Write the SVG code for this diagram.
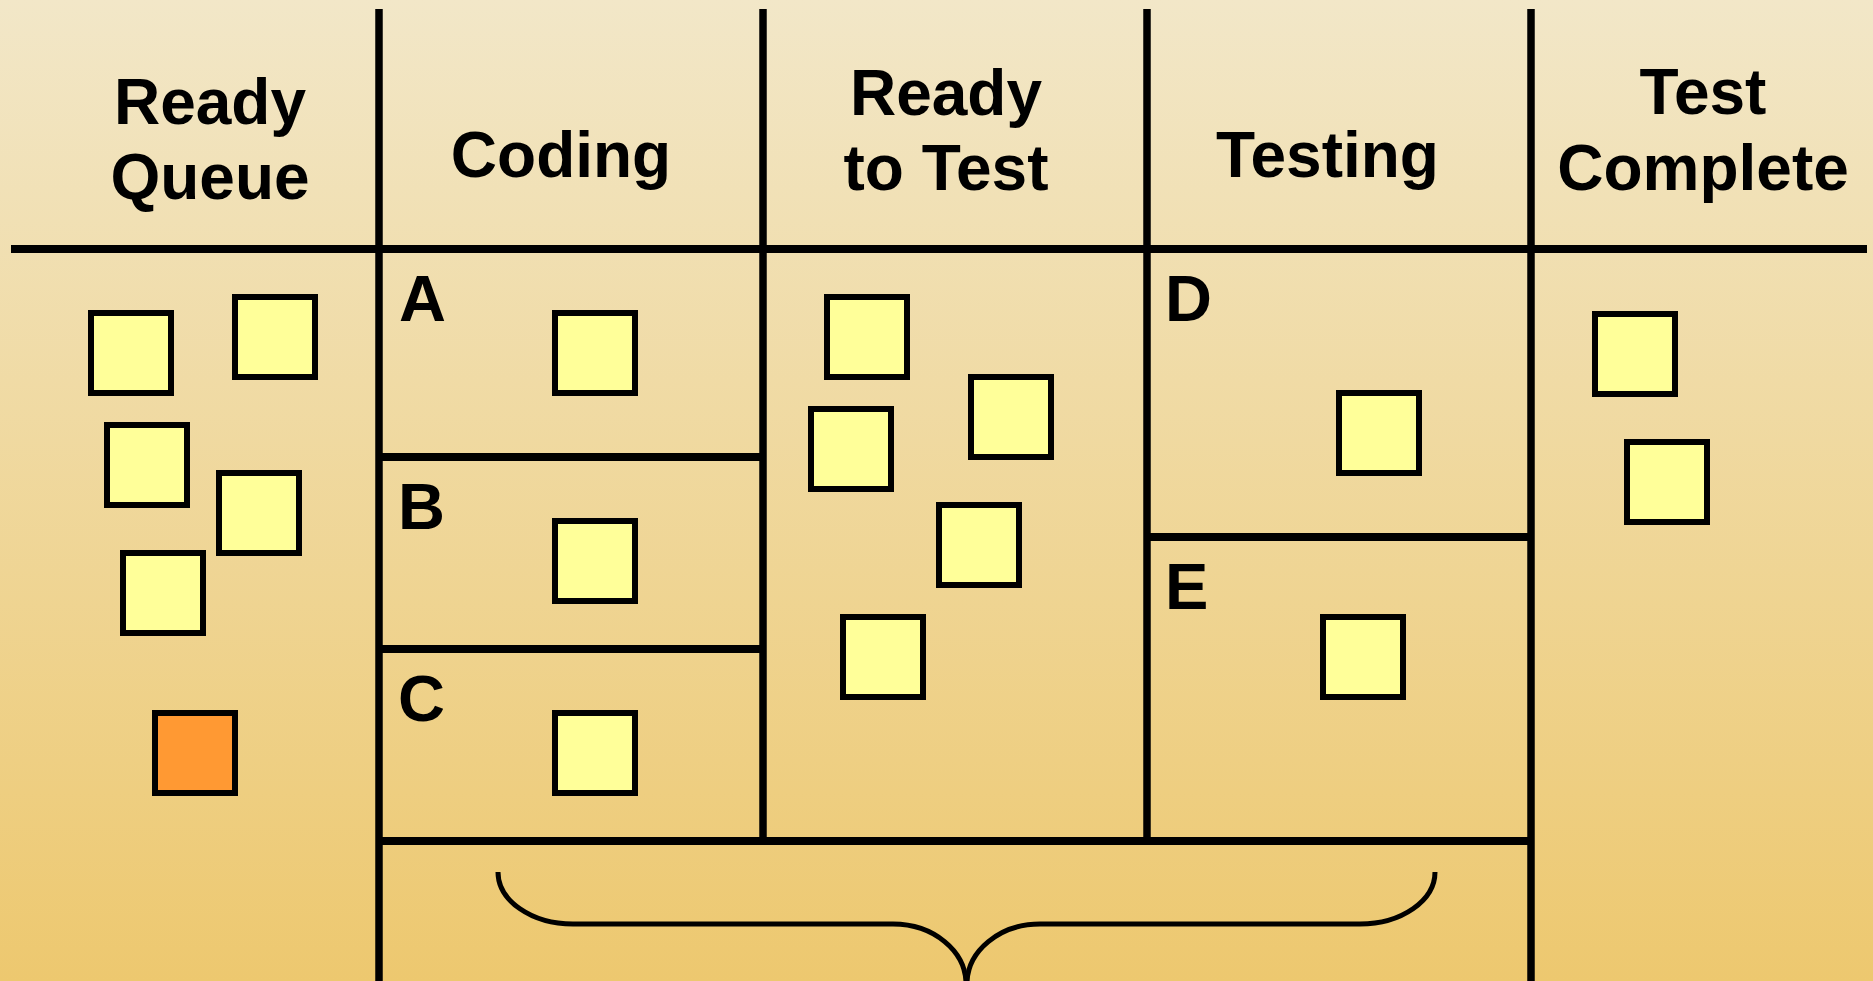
<svg xmlns="http://www.w3.org/2000/svg" width="1873" height="981" viewBox="0 0 1873 981">
  <defs>
    <linearGradient id="bg" x1="0" y1="0" x2="0" y2="1">
      <stop offset="0" stop-color="#F2E7C8"/>
      <stop offset="1" stop-color="#EDC86F"/>
    </linearGradient>
  </defs>
  <style>
    .hdr { font-family: "Liberation Sans", Arial, sans-serif; font-weight: bold; font-size: 64px; fill: #000; text-anchor: middle; }
    .lane { font-family: "Liberation Sans", Arial, sans-serif; font-weight: bold; font-size: 65px; fill: #000; }
    .vline { stroke: #000; stroke-width: 7.5; fill: none; }
    .hline { stroke: #000; stroke-width: 8; fill: none; }
    .card { fill: #FFFF99; stroke: #000; stroke-width: 6; }
    .card.blocked { fill: #FF9933; }
    .brace { fill: none; stroke: #000; stroke-width: 5; }
  </style>

  <rect x="0" y="0" width="1873" height="981" fill="url(#bg)"/>

  <!-- board grid -->
  <g id="grid">
    <line class="hline" x1="11" y1="249" x2="1867" y2="249"/>
    <line class="vline" x1="379" y1="9" x2="379" y2="981"/>
    <line class="vline" x1="763" y1="9" x2="763" y2="845"/>
    <line class="vline" x1="1147" y1="9" x2="1147" y2="845"/>
    <line class="vline" x1="1531" y1="9" x2="1531" y2="981"/>
    <line class="hline" x1="379" y1="457" x2="763" y2="457"/>
    <line class="hline" x1="379" y1="649" x2="763" y2="649"/>
    <line class="hline" x1="1147" y1="537" x2="1531" y2="537"/>
    <line class="hline" x1="379" y1="841" x2="1531" y2="841"/>
  </g>

  <!-- column headers -->
  <g id="col-ready-queue">
    <text class="hdr" x="210" y="124">Ready</text>
    <text class="hdr" x="210" y="199">Queue</text>
  </g>
  <g id="col-coding">
    <text class="hdr" x="561" y="177">Coding</text>
  </g>
  <g id="col-ready-to-test">
    <text class="hdr" x="946" y="115">Ready</text>
    <text class="hdr" x="946" y="189.5">to Test</text>
  </g>
  <g id="col-testing">
    <text class="hdr" x="1327.5" y="177">Testing</text>
  </g>
  <g id="col-test-complete">
    <text class="hdr" x="1703" y="113.5">Test</text>
    <text class="hdr" x="1703" y="190">Complete</text>
  </g>

  <!-- swimlane labels -->
  <g id="lane-a"><text class="lane" x="399" y="321">A</text></g>
  <g id="lane-b"><text class="lane" x="398" y="529">B</text></g>
  <g id="lane-c"><text class="lane" x="398" y="721">C</text></g>
  <g id="lane-d"><text class="lane" x="1165" y="321">D</text></g>
  <g id="lane-e"><text class="lane" x="1165" y="609">E</text></g>

  <!-- cards: Ready Queue -->
  <g id="rq-card-1"><rect class="card" x="91" y="313" width="80" height="80"/></g>
  <g id="rq-card-2"><rect class="card" x="235" y="297" width="80" height="80"/></g>
  <g id="rq-card-3"><rect class="card" x="107" y="425" width="80" height="80"/></g>
  <g id="rq-card-4"><rect class="card" x="219" y="473" width="80" height="80"/></g>
  <g id="rq-card-5"><rect class="card" x="123" y="553" width="80" height="80"/></g>
  <g id="rq-card-6"><rect class="card blocked" x="155" y="713" width="80" height="80"/></g>

  <!-- cards: Coding -->
  <g id="coding-card-a"><rect class="card" x="555" y="313" width="80" height="80"/></g>
  <g id="coding-card-b"><rect class="card" x="555" y="521" width="80" height="80"/></g>
  <g id="coding-card-c"><rect class="card" x="555" y="713" width="80" height="80"/></g>

  <!-- cards: Ready to Test -->
  <g id="rtt-card-1"><rect class="card" x="827" y="297" width="80" height="80"/></g>
  <g id="rtt-card-2"><rect class="card" x="971" y="377" width="80" height="80"/></g>
  <g id="rtt-card-3"><rect class="card" x="811" y="409" width="80" height="80"/></g>
  <g id="rtt-card-4"><rect class="card" x="939" y="505" width="80" height="80"/></g>
  <g id="rtt-card-5"><rect class="card" x="843" y="617" width="80" height="80"/></g>

  <!-- cards: Testing -->
  <g id="testing-card-d"><rect class="card" x="1339" y="393" width="80" height="80"/></g>
  <g id="testing-card-e"><rect class="card" x="1323" y="617" width="80" height="80"/></g>

  <!-- cards: Test Complete -->
  <g id="done-card-1"><rect class="card" x="1595" y="314" width="80" height="80"/></g>
  <g id="done-card-2"><rect class="card" x="1627" y="442" width="80" height="80"/></g>

  <!-- brace grouping Coding through Testing -->
  <g id="connectors">
    <path class="brace" d="M 498 872 A 75 52 0 0 0 573 924 L 893 924 A 73 60 0 0 1 966 984"/>
    <path class="brace" d="M 1435 872 A 75 52 0 0 1 1360 924 L 1040 924 A 73 60 0 0 0 967 984"/>
  </g>
</svg>
